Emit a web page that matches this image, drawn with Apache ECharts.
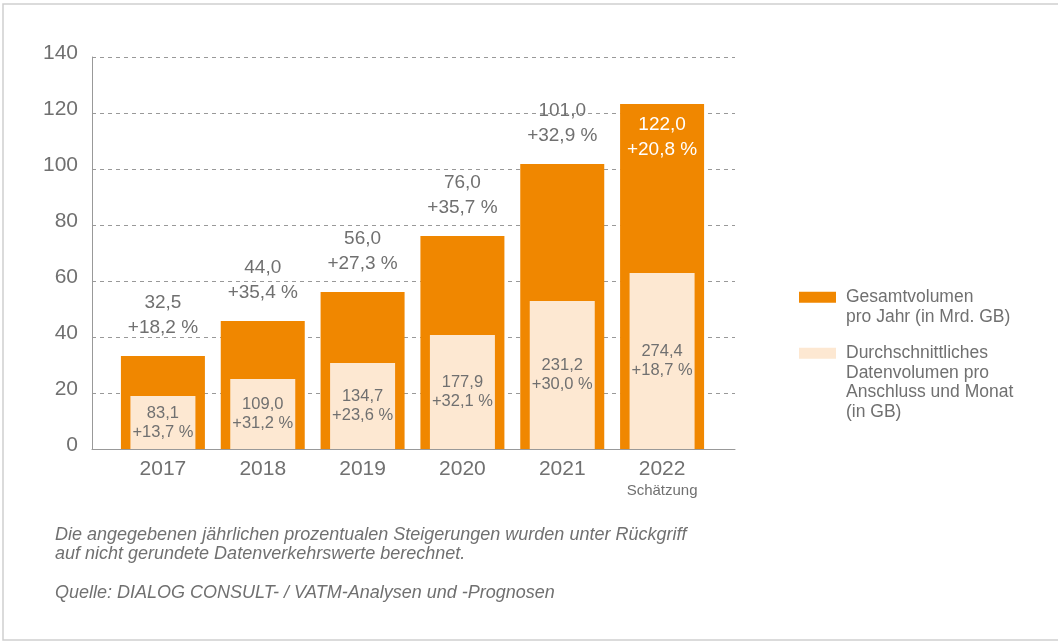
<!DOCTYPE html>
<html style="height: 100%">
<head>
    <meta charset="utf-8">
    <title>Datenvolumen</title>
</head>
<body style="height: 100%; margin: 0; background: #fff">
    <div id="chart" style="width: 1058px; height: 641px;"></div>

    <script src="https://cdn.jsdelivr.net/npm/echarts@6/dist/echarts.min.js"></script>

    <script type="text/javascript">
    var years = ['2017', '2018', '2019', '2020', '2021', '2022'];
    // Gesamtvolumen pro Jahr (bar heights)
    var totalBars = [33.2, 45.7, 56.1, 76.1, 101.8, 123.2];
    var totalLabels = ['32,5', '44,0', '56,0', '76,0', '101,0', '122,0'];
    var totalGrowth = ['+18,2 %', '+35,4 %', '+27,3 %', '+35,7 %', '+32,9 %', '+20,8 %'];
    // Durchschnittliches Datenvolumen (bar heights on the same axis)
    var avgBars = [18.9, 25.0, 30.7, 40.7, 52.9, 62.9];
    var avgLabels = ['83,1', '109,0', '134,7', '177,9', '231,2', '274,4'];
    var avgGrowth = ['+13,7 %', '+31,2 %', '+23,6 %', '+32,1 %', '+30,0 %', '+18,7 %'];

    var nameTotal = 'Gesamtvolumen\npro Jahr (in Mrd. GB)';
    var nameAvg = 'Durchschnittliches\nDatenvolumen pro\nAnschluss und Monat\n(in GB)';

    var font = '"Liberation Sans", Arial, sans-serif';
    var grey = '#707070';
    var orange = '#f08700';
    var light = '#fde8d2';

    var totalData = totalBars.map(function (v, i) {
        var last = i == totalBars.length - 1;
        return {
            value: v,
            label: last ? {position: 'insideTop', distance: 8, color: '#fff'} : {}
        };
    });

    // legend icon sits next to the first line: pad the text with blank lines above
    function legendText(name) {
        var lines = name.split('\n');
        var out = [];
        for (var i = 0; i < lines.length - 1; i++) out.push('{t|}');
        lines.forEach(function (l) { out.push('{t|' + l + '}'); });
        return out.join('\n');
    }
    var legendRich = {t: {fontSize: 17.5, color: grey, lineHeight: 19.5, padding: [0, 0, 0, 5], fontFamily: font}};

    var noteStyle = {fontSize: 18, fontStyle: 'italic', fontWeight: 'normal', color: grey, lineHeight: 18.5, fontFamily: font};

    var option = {
        backgroundColor: '#fff',
        textStyle: {fontFamily: font},
        graphic: [{
            type: 'rect',
            shape: {x: 3, y: 4, width: 1070, height: 636},
            style: {fill: 'none', stroke: '#cfcfcf', lineWidth: 1.5},
            silent: true
        }],
        title: [{
            text: 'Die angegebenen jährlichen prozentualen Steigerungen wurden unter Rückgriff\nauf nicht gerundete Datenverkehrswerte berechnet.',
            left: 55, top: 526, padding: 0,
            textStyle: noteStyle
        }, {
            text: 'Quelle: DIALOG CONSULT- / VATM-Analysen und -Prognosen',
            left: 55, top: 584, padding: 0,
            textStyle: noteStyle
        }],
        legend: [{
            data: [{name: nameTotal}],
            left: 799, top: 268, padding: 0,
            itemWidth: 37, itemHeight: 11,
            icon: 'rect',
            selectedMode: false,
            formatter: legendText,
            textStyle: {fontSize: 17.5, color: grey, lineHeight: 19.5, rich: legendRich}
        }, {
            data: [{name: nameAvg}],
            left: 799, top: 285, padding: 0,
            itemWidth: 37, itemHeight: 11,
            icon: 'rect',
            selectedMode: false,
            formatter: legendText,
            textStyle: {fontSize: 17.5, color: grey, lineHeight: 19.5, rich: legendRich}
        }],
        grid: [
            {left: 92, top: 57, width: 643, height: 392},
            {left: 113, top: 57, width: 599, height: 392}
        ],
        xAxis: [{
            type: 'category', gridIndex: 0, data: years,
            axisLine: {lineStyle: {color: '#999', width: 1}},
            axisTick: {show: false}, axisLabel: {show: false}
        }, {
            type: 'category', gridIndex: 1, data: years,
            axisLine: {show: false}, axisTick: {show: false},
            axisLabel: {
                interval: 0,
                margin: 8, fontSize: 21, color: grey, lineHeight: 24,
                formatter: function (v) {
                    return v == '2022' ? v + '\n{s|Schätzung}' : v;
                },
                rich: {s: {fontSize: 15, color: grey, lineHeight: 20, fontFamily: font}}
            }
        }, {
            type: 'category', gridIndex: 1, data: years, show: false
        }],
        yAxis: [{
            type: 'value', gridIndex: 0, min: 0, max: 140, interval: 20,
            axisLine: {show: true, lineStyle: {color: '#999', width: 1}},
            axisTick: {show: false},
            axisLabel: {fontSize: 21, color: grey, margin: 14, verticalAlign: 'bottom', lineHeight: 8},
            splitLine: {lineStyle: {color: '#999', type: [4, 4], width: 1}}
        }, {
            type: 'value', gridIndex: 1, min: 0, max: 140, interval: 20, show: false,
            splitLine: {show: false}
        }],
        series: [{
            name: nameTotal,
            type: 'bar',
            xAxisIndex: 1, yAxisIndex: 1,
            barWidth: 84,
            itemStyle: {color: orange},
            label: {
                show: true, position: 'top', distance: 16,
                fontSize: 19, lineHeight: 25, color: grey,
                formatter: function (p) {
                    return totalLabels[p.dataIndex] + '\n' + totalGrowth[p.dataIndex];
                }
            },
            data: totalData,
            z: 2
        }, {
            name: nameAvg,
            type: 'bar',
            xAxisIndex: 2, yAxisIndex: 1,
            barWidth: 65,
            itemStyle: {color: light},
            label: {
                show: true, position: 'inside',
                fontSize: 16.5, lineHeight: 19, color: grey,
                formatter: function (p) {
                    return avgLabels[p.dataIndex] + '\n' + avgGrowth[p.dataIndex];
                }
            },
            data: avgBars,
            z: 3
        }]
    };

    var myChart = echarts.init(document.getElementById('chart'));
    myChart.setOption(option);
    </script>
</body>
</html>
